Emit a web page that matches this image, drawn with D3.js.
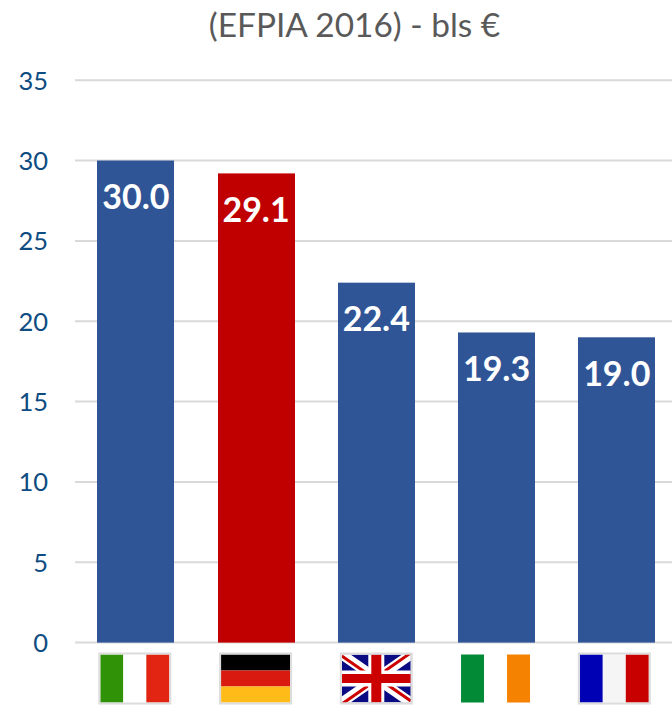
<!DOCTYPE html>
<html><head><meta charset="utf-8">
<script src="https://cdn.jsdelivr.net/npm/d3@7"></script>
<style>
html,body{margin:0;padding:0;background:#fff;overflow:hidden}
svg{display:block}
text{font-family:Lato,"Open Sans",sans-serif}
</style></head><body>
<svg id="c" width="672" height="705"></svg>
<script>
const title = "(EFPIA 2016) - bls €";
const countries = ["Italy","Germany","United Kingdom","Ireland","France"];
const values = [30.0,29.2,22.4,19.3,19.0];
const valueLabels = ["30.0","29.1","22.4","19.3","19.0"];
const barColors = ["#2f5597","#c00000","#2f5597","#2f5597","#2f5597"];
const yTicks = [0,5,10,15,20,25,30,35];
const flagShift = [-1,-0.5,0,-1,-2.5];
const flagBorder = ["#dcdcdc","#dcdcdc","#dcdcdc","none","#dcdcdc"];
const flagStripes = {
  "Italy":{dir:"v",colors:["#2f9207","#ffffff","#e22412"]},
  "Germany":{dir:"h",colors:["#000000","#d81a10","#ffbc18"]},
  "Ireland":{dir:"v",colors:["#038a36","#ffffff","#f58200"]},
  "France":{dir:"v",colors:["#0000b4","#f5f5f5","#c80000"]}
};
const svg = d3.select("#c");
const x = d3.scaleBand().domain(countries).range([75.7,676.9]).paddingInner(0.36).paddingOuter(0.18);
const y = d3.scaleLinear().domain([0,35]).range([642.6,80.2]);

svg.append("text").attr("x",354.5).attr("y",36.5).attr("text-anchor","middle")
  .attr("font-size",33.4).attr("fill","#595959").text(title);

const axis = d3.axisLeft(y).tickValues(yTicks).tickSize(0).tickPadding(0).tickFormat(d3.format("d"));
const gy = svg.append("g").attr("transform","translate(48,0)").call(axis);
gy.select(".domain").remove();
gy.selectAll("text").attr("font-size",25.5).attr("fill","#0f4c81").attr("font-family","Lato,sans-serif").attr("dy","0.35em");

svg.append("g").selectAll("line").data(yTicks).join("line")
  .attr("x1",75).attr("x2",672).attr("y1",d=>y(d)).attr("y2",d=>y(d))
  .attr("stroke","#d9d9d9").attr("stroke-width",2);

svg.append("g").selectAll("rect").data(countries).join("rect")
  .attr("x",d=>Math.round(x(d))).attr("width",Math.round(x.bandwidth()))
  .attr("y",(d,i)=>y(values[i])).attr("height",(d,i)=>y(0)-y(values[i]))
  .attr("fill",(d,i)=>barColors[i]);

svg.append("g").selectAll("text").data(countries).join("text")
  .attr("x",d=>x(d)+x.bandwidth()/2).attr("y",(d,i)=>y(values[i])+48.5)
  .attr("text-anchor","middle").attr("font-size",34).attr("font-weight",700).attr("fill","#fff")
  .text((d,i)=>valueLabels[i]);

// flags beneath the bars
const fw=69, fh=48, fy=654.5;
const flags = svg.append("g");
countries.forEach((c,k)=>{
  const g = flags.append("g").attr("transform",`translate(${x(c)+x.bandwidth()/2-fw/2+flagShift[k]},${fy})`);
  const spec = flagStripes[c];
  if(spec){
    spec.colors.forEach((col,i)=>{
      if(spec.dir==="v") g.append("rect").attr("x",i*fw/3).attr("y",0).attr("width",fw/3).attr("height",fh).attr("fill",col);
      else g.append("rect").attr("x",0).attr("y",i*fh/3).attr("width",fw).attr("height",fh/3).attr("fill",col);
    });
  } else {
    g.append("clipPath").attr("id","uk").append("rect").attr("width",fw).attr("height",fh);
    const u=g.append("g").attr("clip-path","url(#uk)");
    u.append("rect").attr("width",fw).attr("height",fh).attr("fill","#0a0a82");
    const diag=[[0,0,fw,fh],[0,fh,fw,0]];
    u.selectAll(".w").data(diag).join("line").attr("class","w").attr("x1",d=>d[0]).attr("y1",d=>d[1]).attr("x2",d=>d[2]).attr("y2",d=>d[3]).attr("stroke","#fff").attr("stroke-width",10);
    const arms=[[0,0,fw/2,fh/2,1.6],[fw,0,fw/2,fh/2,-1.6],[fw,fh,fw/2,fh/2,-1.6],[0,fh,fw/2,fh/2,1.6]];
    u.selectAll(".r").data(arms).join("line").attr("class","r")
      .attr("x1",d=>d[0]).attr("y1",d=>d[1]+d[4]).attr("x2",d=>d[2]).attr("y2",d=>d[3]+d[4])
      .attr("stroke","#cc0000").attr("stroke-width",3);
    u.append("rect").attr("x",fw/2-8).attr("width",16).attr("height",fh).attr("fill","#fff");
    u.append("rect").attr("y",fh/2-8).attr("width",fw).attr("height",16).attr("fill","#fff");
    u.append("rect").attr("x",fw/2-5).attr("width",10).attr("height",fh).attr("fill","#cc0000");
    u.append("rect").attr("y",fh/2-4.5).attr("width",fw).attr("height",9).attr("fill","#cc0000");
  }
  g.append("rect").attr("x",-1).attr("y",-1).attr("width",fw+2).attr("height",fh+2).attr("fill","none").attr("stroke",flagBorder[k]).attr("stroke-width",2);
});
</script></body></html>
